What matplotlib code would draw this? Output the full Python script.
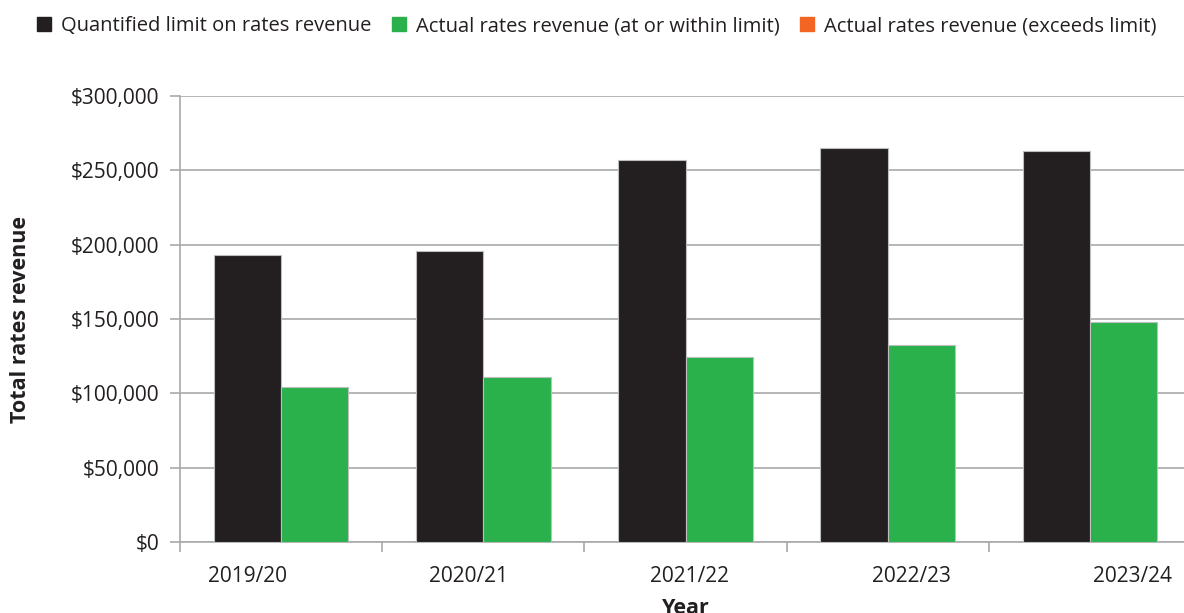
import numpy as np
import matplotlib
matplotlib.use("Agg")
import matplotlib.pyplot as plt
from matplotlib.patches import Patch
from matplotlib.ticker import FuncFormatter

plt.rcParams['font.family'] = ['Open Sans', 'DejaVu Sans']

years = ["2019/20", "2020/21", "2021/22", "2022/23", "2023/24"]
limit_values = [193000, 196000, 257000, 265000, 263000]
actual_values = [104000, 111000, 124500, 132500, 148000]

series_labels = [
    "Quantified limit on rates revenue",
    "Actual rates revenue (at or within limit)",
    "Actual rates revenue (exceeds limit)",
]

TEXT = "#231f20"
BLACK = "#231f20"
GREEN = "#2bb14b"
ORANGE = "#f26522"
GRID = "#a7a9ac"

fig = plt.figure(figsize=(11.84, 6.13), dpi=100)
ax = fig.add_axes([0.152, 0.1158, 0.854, 0.7276])

x = np.arange(len(years))
w = 0.333
ax.bar(x - w / 2, limit_values, width=w, color=BLACK, edgecolor="#bcbec0", linewidth=0.8, zorder=3)
ax.bar(x + w / 2, actual_values, width=w, color=GREEN, edgecolor="#bcbec0", linewidth=0.8, zorder=3)

ax.set_xlim(-0.5, len(years) - 0.5)
ax.set_ylim(0, 300000)
ax.set_yticks(np.arange(0, 300001, 50000))
ax.yaxis.set_major_formatter(FuncFormatter(lambda v, p: f"${v:,.0f}"))
ax.grid(axis="y", color=GRID, linewidth=1.2, zorder=0)

for s in ["top", "right"]:
    ax.spines[s].set_visible(False)
ax.spines["left"].set_color(GRID)
ax.spines["bottom"].set_color(GRID)
ax.spines["left"].set_linewidth(1.2)
ax.spines["bottom"].set_linewidth(1.2)

ax.tick_params(axis="y", length=7, color=GRID, width=1.2, labelsize=15, labelcolor=TEXT, pad=8)

# category labels spread evenly across the axis, boundary ticks as minor ticks
label_pos = np.linspace(-0.164, 4.208, len(years))
ax.set_xticks(label_pos)
ax.set_xticklabels(years)
ax.set_xticks(np.arange(-0.5, len(years) + 0.5, 1.0), minor=True)
ax.tick_params(axis="x", which="major", length=0, labelsize=15, labelcolor=TEXT, pad=17)
ax.tick_params(axis="x", which="minor", length=7, color=GRID, width=1.2)

ax.set_xlabel("Year", fontsize=15.5, fontweight="bold", color=TEXT, labelpad=8)
ax.set_ylabel("Total rates revenue", fontsize=15.5, fontweight="bold", color=TEXT, labelpad=28)

handles = [Patch(facecolor=c, edgecolor=c) for c in (BLACK, GREEN, ORANGE)]
fig.legend(handles, series_labels, loc="upper center", bbox_to_anchor=(0.504, 1.0), ncol=3,
           frameon=False, fontsize=14.5, labelcolor=TEXT, handlelength=0.7, handleheight=0.7,
           handletextpad=0.5, columnspacing=1.0, borderaxespad=0.4)

fig.savefig("out.png", dpi=100)
